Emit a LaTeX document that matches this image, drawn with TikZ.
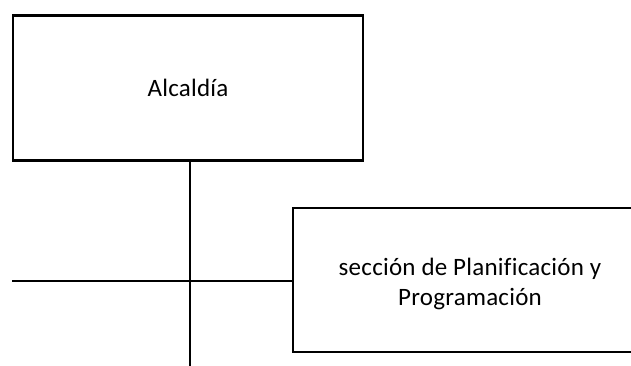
\documentclass[tikz,border=0pt]{standalone}
\usepackage{fontspec}
\setmainfont{Carlito}[Ligatures=CommonOff, LetterSpace=1]
\begin{document}
\begin{tikzpicture}[
			x=0.75pt, y=-0.75pt,
			unit/.style={align=center, draw, line width=1.6pt, inner sep=0pt},
			font=\fontsize{18.75}{22.5}\selectfont]

		\useasboundingbox (0,0) rectangle (631,365);
		\clip (0,0) rectangle (631,365);

		\node[unit, minimum width=262.5pt, minimum height=108.75pt](alcaldia) at (188,88) {Alcaldía};
		\node[unit, minimum width=265.5pt, minimum height=108pt](seccion) at (470,280) {};
		\node[font=\fontsize{18.75}{22.5}\selectfont, align=center](seccionlabel) at (470,284) {sección de Planificación y\\Programación};

		\coordinate (bottom) at (190,366);
		\coordinate (leftend) at (12,281);

		\draw[line width=1.6pt] (alcaldia.south -| bottom) -- (bottom);
		\draw[line width=1.6pt] (leftend) -- (leftend -| seccion.west);
	\end{tikzpicture}
\end{document}
